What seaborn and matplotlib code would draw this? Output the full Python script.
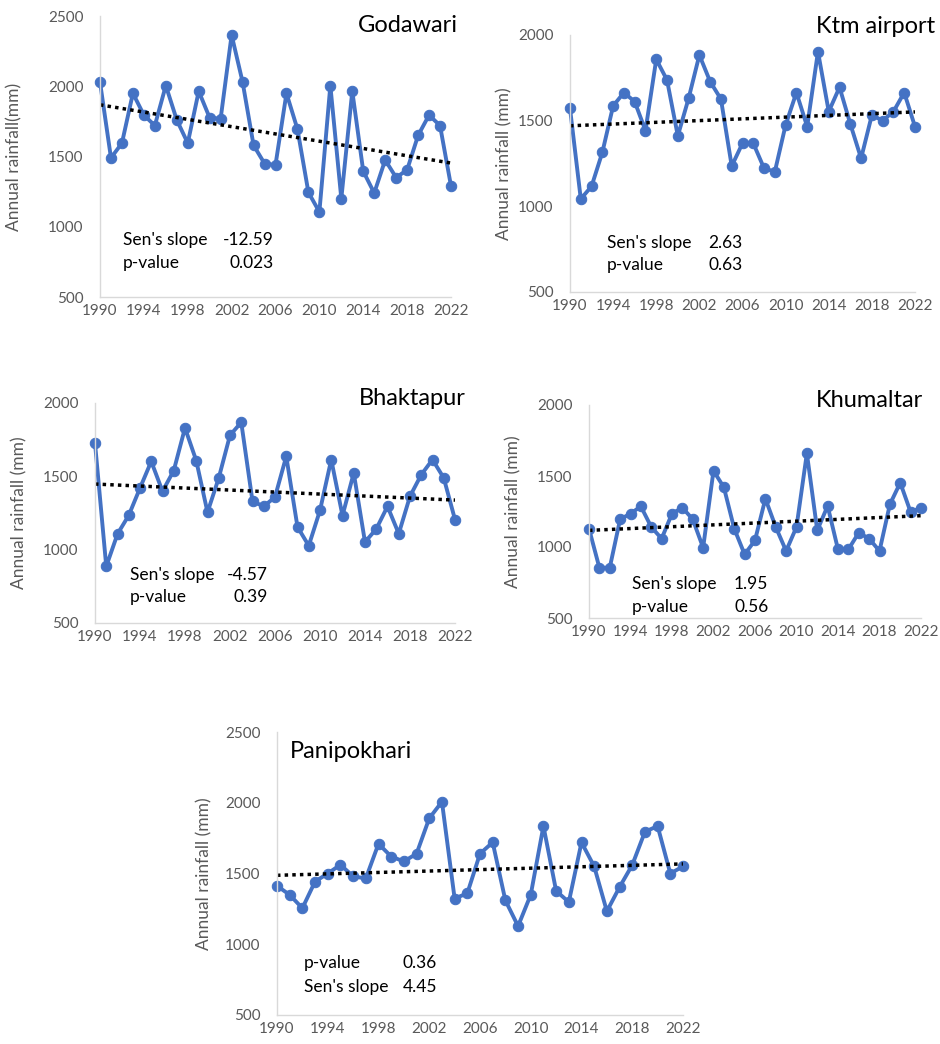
import numpy as np
import pandas as pd
import matplotlib.pyplot as plt
import seaborn as sns

years = list(range(1990, 2023))

godawari = [2030, 1490, 1595, 1950, 1795, 1720, 2005, 1760, 1595, 1965, 1775,
            1770, 2365, 2030, 1580, 1450, 1440, 1950, 1695, 1245, 1105, 2005,
            1200, 1965, 1395, 1240, 1475, 1350, 1405, 1650, 1795, 1720, 1290]
ktm_airport = [1572, 1043, 1117, 1315, 1586, 1664, 1611, 1442, 1858, 1737, 1411,
               1630, 1883, 1728, 1626, 1235, 1368, 1368, 1222, 1202, 1475, 1664,
               1465, 1903, 1553, 1695, 1481, 1280, 1533, 1500, 1553, 1664, 1465]
bhaktapur = [1727, 886, 1107, 1234, 1420, 1602, 1398, 1539, 1830, 1607, 1255,
             1489, 1780, 1868, 1330, 1295, 1359, 1636, 1155, 1027, 1268, 1614,
             1232, 1523, 1052, 1141, 1295, 1109, 1364, 1511, 1614, 1489, 1205]
khumaltar = [1129, 854, 854, 1195, 1235, 1286, 1141, 1059, 1235, 1277, 1195,
             995, 1537, 1420, 1129, 948, 1047, 1340, 1141, 972, 1141, 1660,
             1117, 1289, 983, 983, 1101, 1059, 972, 1300, 1453, 1246, 1277]
panipokhari = [1413, 1349, 1255, 1443, 1500, 1562, 1480, 1465, 1710, 1620, 1585,
               1640, 1890, 2007, 1323, 1360, 1640, 1720, 1310, 1128, 1350, 1835,
               1377, 1298, 1720, 1550, 1233, 1404, 1560, 1795, 1835, 1500, 1550]

stations = ['Godawari', 'Ktm airport', 'Bhaktapur', 'Khumaltar', 'Panipokhari']
sens_slope = ['-12.59', '2.63', '-4.57', '1.95', '4.45']
p_values = ['0.023', '0.63', '0.39', '0.56', '0.36']
ylabels = ['Annual rainfall(mm)', 'Annual rainfall (mm)', 'Annual rainfall (mm)',
           'Annual rainfall (mm)', 'Annual rainfall (mm)']
ymax = [2500, 2000, 2000, 2000, 2500]
xticks = list(range(1990, 2023, 4))

sns.set_style('white')
plt.rcParams['font.family'] = ['Lato', 'DejaVu Sans']

blue = '#4472C4'
grey = '#595959'

fig = plt.figure(figsize=(9.4, 10.44), dpi=100)
W, H = 940, 1044


def px_axes(l, t, r, b):
    return fig.add_axes([l / W, 1 - b / H, (r - l) / W, (b - t) / H])


# pixel boxes (left, top, right, bottom) of each plotting area
boxes = [(100, 16, 451, 297), (570, 35, 915, 292), (95, 403, 455, 623),
         (589, 405, 921, 618), (277, 732, 683, 1015)]
# title position (x, y, ha) in axes fraction
title_pos = [(1.02, 0.965, 'right'), (1.058, 1.035, 'right'), (1.03, 1.02, 'right'),
             (1.006, 1.02, 'right'), (0.032, 0.93, 'left')]
# annotation position: label x, value x (right edge), first row y, second row y
note_pos = [(0.066, 0.495, 0.203, 0.121), (0.107, 0.50, 0.19, 0.105),
            (0.097, 0.48, 0.218, 0.118), (0.13, 0.54, 0.16, 0.052),
            (0.067, 0.394, 0.184, 0.10)]
ylabel_pad = [18, 4, 11, 11, 9]

series = [godawari, ktm_airport, bhaktapur, khumaltar, panipokhari]

for i, vals in enumerate(series):
    df = pd.DataFrame({'year': years, 'rain': vals})
    ax = px_axes(*boxes[i])
    sns.lineplot(data=df, x='year', y='rain', ax=ax, color=blue, lw=2.8,
                 marker='o', markersize=7.5, markeredgecolor=blue, clip_on=False)
    sns.regplot(data=df, x='year', y='rain', ax=ax, scatter=False, ci=None,
                line_kws=dict(color='black', ls=(0, (1, 1.2)), lw=2.5))
    ax.set_xlim(1990, 2022)
    ax.set_ylim(500, ymax[i])
    ax.set_yticks(range(500, ymax[i] + 1, 500))
    ax.set_xticks(xticks)
    ax.set_xlabel('')
    ax.set_ylabel(ylabels[i], color=grey, fontsize=12.5, labelpad=ylabel_pad[i])
    ax.tick_params(axis='both', length=0, labelsize=11, labelcolor=grey)
    ax.tick_params(axis='y', pad=12)
    ax.tick_params(axis='x', pad=5)
    for s in ['top', 'right']:
        ax.spines[s].set_visible(False)
    for s in ['left', 'bottom']:
        ax.spines[s].set_color('#D9D9D9')
        ax.spines[s].set_linewidth(1.0)

    tx, ty, ha = title_pos[i]
    ax.text(tx, ty, stations[i], transform=ax.transAxes, ha=ha, va='center',
            fontsize=17, color='black')

    lx, vx, y1, y2 = note_pos[i]
    rows = [("Sen's slope", sens_slope[i]), ('p-value', p_values[i])]
    if stations[i] == 'Panipokhari':
        rows = rows[::-1]
    for (lab, val), yy in zip(rows, [y1, y2]):
        ax.text(lx, yy, lab, transform=ax.transAxes, ha='left', va='center',
                fontsize=12.5, color='black')
        ax.text(vx, yy, val, transform=ax.transAxes, ha='right', va='center',
                fontsize=12.5, color='black')

fig.savefig('out.png', dpi=100, facecolor='white')
